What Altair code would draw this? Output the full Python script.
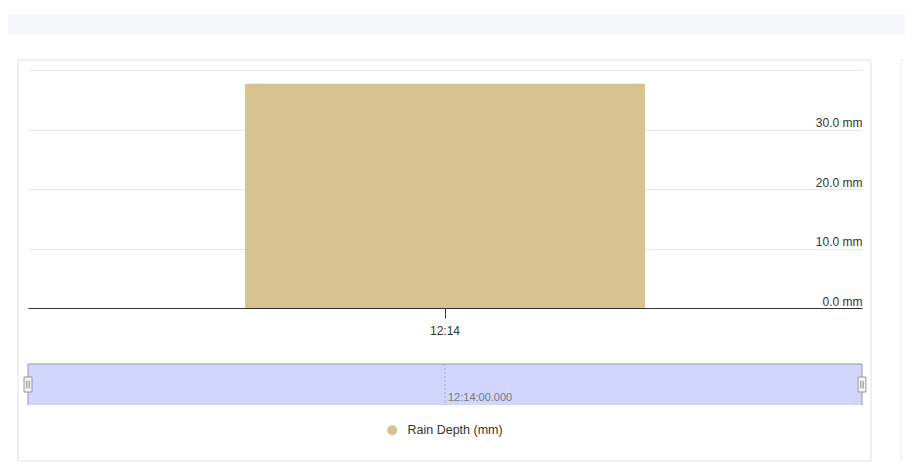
import altair as alt
import pandas as pd

# ---------------- data ----------------
times = ["12:14"]
depths = [37.7]
series_names = ["Rain Depth (mm)"]
y_ticks = [0, 10, 20, 30, 40]
nav_start = ["2024-01-01T12:13:00"]
nav_end = ["2024-01-01T12:15:00"]
nav_ticks = ["2024-01-01T12:14:00"]
nav_edges = nav_start + nav_end

# ---------------- styles ----------------
BAR = "#d6c38f"
NAV_FILL = "#d2d6fd"
FONT = "Liberation Sans"
W = 834
H = 238
NAV_H = 41

bar_df = pd.DataFrame({"time": times, "depth": depths, "series": series_names})
one = pd.DataFrame({"k": [0]})

# decorative page elements (top band, card outline, neighbour card edge)
band = alt.Chart(one).mark_rect(fill="#f6f7fa").encode(
    x=alt.value(-20), x2=alt.value(877), y=alt.value(-56), y2=alt.value(-35)
)
card = alt.Chart(one).mark_rect(fill="white", fillOpacity=0, stroke="#e2e2e2", strokeWidth=1).encode(
    x=alt.value(-10), x2=alt.value(843), y=alt.value(-10), y2=alt.value(391)
)
right_card = alt.Chart(one).mark_rule(color="#e6e6e6", strokeWidth=1).encode(
    x=alt.value(873), y=alt.value(-10), y2=alt.value(391)
)
right_card_top = alt.Chart(one).mark_rule(color="#e6e6e6", strokeWidth=1).encode(
    x=alt.value(873), x2=alt.value(876), y=alt.value(-10)
)

bars = alt.Chart(bar_df).mark_bar().encode(
    x=alt.X(
        "time:N",
        scale=alt.Scale(paddingInner=0, paddingOuter=0.5425),
        axis=alt.Axis(
            title=None, labelAngle=0, grid=False, domainColor="#333333",
            tickColor="#333333", tickSize=10, labelPadding=7, labelFontSize=12,
            labelColor="#333333", bandPosition=0.5, zindex=1,
        ),
    ),
    y=alt.Y(
        "depth:Q",
        scale=alt.Scale(domain=[0, 40], nice=False),
        axis=alt.Axis(
            title=None, orient="right", values=y_ticks, domain=False, ticks=False,
            tickSize=0, labelPadding=0, labelAlign="right", labelBaseline="alphabetic",
            labelOffset=-3, labelFlush=False, labelOverlap=False,
            labelExpr="datum.value >= 40 ? '' : format(datum.value, '.1f') + ' mm'",
            gridColor="#e6e6e6", labelFontSize=12, labelColor="#333333",
        ),
    ),
    color=alt.Color(
        "series:N",
        scale=alt.Scale(domain=series_names, range=[BAR]),
        legend=alt.Legend(
            orient="none", legendX=358, legendY=354, title=None, symbolType="circle",
            symbolSize=100, symbolStrokeWidth=0, labelFontSize=12.5, labelColor="#333333",
            labelOffset=9, padding=0, direction="horizontal",
        ),
    ),
)

main = alt.layer(band, card, right_card, right_card_top, bars).properties(width=W, height=H)

# ---------------- navigator ----------------
range_df = pd.DataFrame({"start": nav_start, "end": nav_end})
tick_df = pd.DataFrame({"tick": nav_ticks})
edge_df = pd.DataFrame({"edge": nav_edges})

xnav = alt.X("start:T", scale=alt.Scale(nice=False), axis=None)

mask = alt.Chart(range_df).mark_rect(color=NAV_FILL).encode(
    x=xnav, x2="end:T", y=alt.value(0), y2=alt.value(NAV_H)
)
dash = alt.Chart(tick_df).mark_rule(color="#a4a9d9", strokeDash=[2, 2], strokeWidth=1).encode(
    x=alt.X("tick:T", axis=None), y=alt.value(0), y2=alt.value(NAV_H)
)
dash_label = alt.Chart(tick_df).mark_text(
    align="left", baseline="alphabetic", dx=3, fontSize=11, color="#777777", font=FONT
).encode(
    x=alt.X("tick:T", axis=None), y=alt.value(36.5),
    text=alt.Text("tick:T", format="%H:%M:%S.%L"),
)
top_border = alt.Chart(range_df).mark_rule(color="#999999", strokeWidth=1).encode(
    x=xnav, x2="end:T", y=alt.value(0)
)
side_border = alt.Chart(edge_df).mark_rule(color="#999999", strokeWidth=1).encode(
    x=alt.X("edge:T", axis=None), y=alt.value(0), y2=alt.value(NAV_H)
)
handles = alt.Chart(edge_df).mark_point(
    shape="M-0.53,-1H0.53V1H-0.53Z", size=225, filled=True, color="#f2f2f2",
    stroke="#999999", strokeWidth=1, opacity=1,
).encode(x=alt.X("edge:T", axis=None), y=alt.value(20.5))
grips = alt.Chart(edge_df).mark_point(
    shape="M-0.16,-0.5V0.5M0.16,-0.5V0.5", size=225, filled=False,
    color="#888888", strokeWidth=1, opacity=1,
).encode(x=alt.X("edge:T", axis=None), y=alt.value(20.5))

nav = alt.layer(mask, dash, dash_label, top_border, side_border, handles, grips).properties(
    width=W, height=NAV_H
)

chart = alt.vconcat(main, nav, spacing=56, bounds="flush").properties(
    padding={"left": 0, "top": 6, "right": 0, "bottom": 0}
).configure(font=FONT, background="white").configure_view(strokeWidth=0)

chart.save("out.html", embed_options={"renderer": "svg", "actions": False})
